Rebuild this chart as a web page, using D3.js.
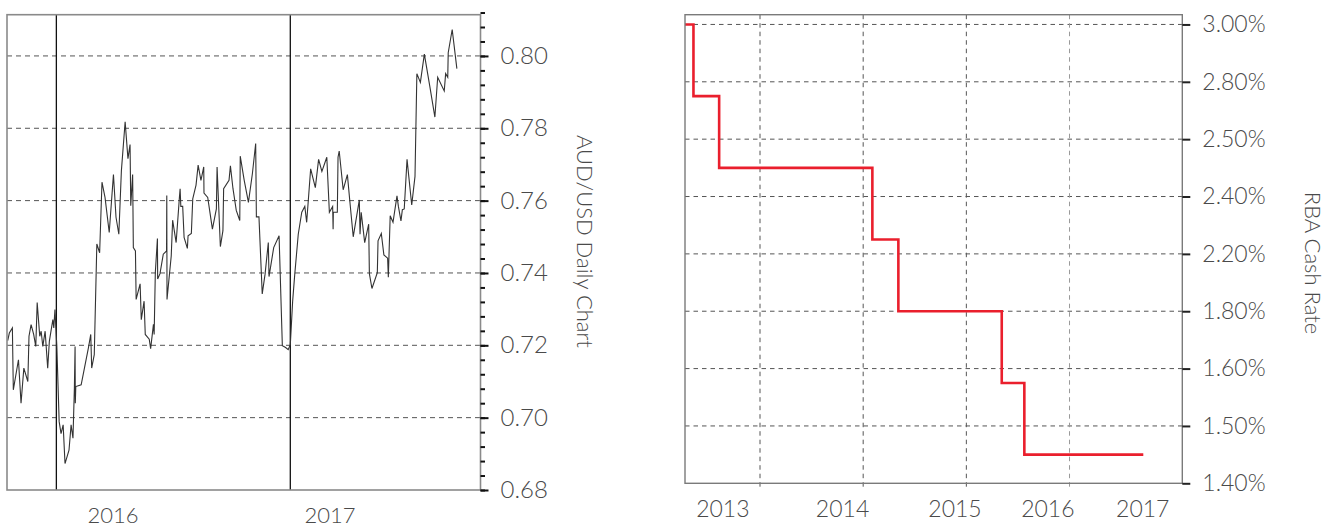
<!DOCTYPE html>
<html>
<head>
<meta charset="utf-8">
<script src="https://cdn.jsdelivr.net/npm/d3@7"></script>
<style>
  body { margin: 0; background: #fff; }
  svg { display: block; }
  text { font-family: Lato, "Open Sans", "DejaVu Sans", sans-serif; font-weight: 300; fill: #4a4a4a; }
</style>
</head>
<body>
<svg id="chart" width="1325" height="526"></svg>
<script>
// ---------- Left panel: AUD/USD daily (time in decimal years) ----------
const audTime = [
  2015.792, 2015.799, 2015.812, 2015.816, 2015.838, 2015.849, 2015.861, 2015.878, 2015.883, 2015.892,
  2015.903, 2015.912, 2015.918, 2015.929, 2015.935, 2015.942, 2015.952, 2015.963, 2015.970, 2015.977,
  2015.985, 2015.989, 2015.994, 2016.002, 2016.012, 2016.020, 2016.029, 2016.037, 2016.054, 2016.063,
  2016.071, 2016.077, 2016.080, 2016.081, 2016.083, 2016.106, 2016.120, 2016.137, 2016.147, 2016.151,
  2016.162, 2016.173, 2016.185, 2016.195, 2016.208, 2016.226, 2016.244, 2016.255, 2016.267, 2016.278,
  2016.294, 2016.306, 2016.315, 2016.318, 2016.326, 2016.327, 2016.329, 2016.338, 2016.341, 2016.358,
  2016.363, 2016.375, 2016.380, 2016.397, 2016.403, 2016.415, 2016.418, 2016.423, 2016.432, 2016.433,
  2016.443, 2016.457, 2016.471, 2016.472, 2016.473, 2016.491, 2016.497, 2016.512, 2016.526, 2016.529,
  2016.532, 2016.540, 2016.546, 2016.560, 2016.563, 2016.577, 2016.583, 2016.597, 2016.606, 2016.618,
  2016.630, 2016.631, 2016.647, 2016.667, 2016.684, 2016.687, 2016.701, 2016.712, 2016.715, 2016.738,
  2016.744, 2016.755, 2016.769, 2016.784, 2016.786, 2016.803, 2016.821, 2016.838, 2016.852, 2016.855,
  2016.866, 2016.880, 2016.892, 2016.906, 2016.909, 2016.929, 2016.952, 2016.966, 2016.980, 2016.991,
  2017.000, 2017.010, 2017.019, 2017.034, 2017.049, 2017.062, 2017.070, 2017.087, 2017.107, 2017.121,
  2017.135, 2017.156, 2017.167, 2017.181, 2017.183, 2017.184, 2017.201, 2017.204, 2017.209, 2017.226,
  2017.244, 2017.255, 2017.269, 2017.295, 2017.298, 2017.303, 2017.318, 2017.335, 2017.338, 2017.349,
  2017.372, 2017.375, 2017.389, 2017.400, 2017.416, 2017.419, 2017.427, 2017.439, 2017.456, 2017.462,
  2017.473, 2017.479, 2017.487, 2017.499, 2017.519, 2017.533, 2017.541, 2017.556, 2017.573, 2017.596,
  2017.618, 2017.630, 2017.658, 2017.664, 2017.673, 2017.675, 2017.692, 2017.712
];
const audValue = [
  0.7213, 0.7234, 0.7248, 0.7077, 0.7160, 0.7040, 0.7137, 0.7100, 0.7225, 0.7257,
  0.7230, 0.7197, 0.7318, 0.7225, 0.7239, 0.7197, 0.7239, 0.7137, 0.7211, 0.7239,
  0.7271, 0.7248, 0.7299, 0.7197, 0.6989, 0.6956, 0.6980, 0.6873, 0.6910, 0.6980,
  0.6943, 0.7081, 0.7197, 0.7040, 0.7086, 0.7091, 0.7137, 0.7193, 0.7230, 0.7137,
  0.7174, 0.7480, 0.7456, 0.7651, 0.7609, 0.7512, 0.7672, 0.7554, 0.7507, 0.7683,
  0.7818, 0.7716, 0.7755, 0.7586, 0.7672, 0.7609, 0.7470, 0.7461, 0.7327, 0.7370,
  0.7271, 0.7322, 0.7230, 0.7217, 0.7191, 0.7258, 0.7230, 0.7401, 0.7495, 0.7383,
  0.7398, 0.7452, 0.7461, 0.7614, 0.7327, 0.7447, 0.7546, 0.7484, 0.7609, 0.7633,
  0.7584, 0.7584, 0.7498, 0.7468, 0.7503, 0.7509, 0.7605, 0.7643, 0.7698, 0.7656,
  0.7693, 0.7621, 0.7609, 0.7521, 0.7577, 0.7693, 0.7473, 0.7517, 0.7633, 0.7656,
  0.7696, 0.7633, 0.7573, 0.7545, 0.7723, 0.7656, 0.7595, 0.7675, 0.7758, 0.7555,
  0.7555, 0.7342, 0.7396, 0.7484, 0.7390, 0.7470, 0.7503, 0.7199, 0.7194, 0.7188,
  0.7202, 0.7322, 0.7396, 0.7507, 0.7568, 0.7584, 0.7540, 0.7688, 0.7636, 0.7714,
  0.7681, 0.7720, 0.7568, 0.7584, 0.7521, 0.7568, 0.7568, 0.7720, 0.7737, 0.7630,
  0.7672, 0.7595, 0.7500, 0.7602, 0.7507, 0.7568, 0.7484, 0.7535, 0.7398, 0.7357,
  0.7401, 0.7489, 0.7509, 0.7450, 0.7441, 0.7388, 0.7558, 0.7540, 0.7613, 0.7584,
  0.7544, 0.7575, 0.7577, 0.7714, 0.7588, 0.7667, 0.7951, 0.7927, 0.8005, 0.7917,
  0.7831, 0.7941, 0.7903, 0.7951, 0.7941, 0.8009, 0.8073, 0.7965
];
const audYearLines = [2016, 2017];
const audYearLabels = ["2016", "2017"];
const audYearLabelAt = [2016.242, 2017.170];
const audTickValues = [0.68, 0.70, 0.72, 0.74, 0.76, 0.78, 0.80];
const audTickLabels = ["0.68", "0.70", "0.72", "0.74", "0.76", "0.78", "0.80"];
const audMinorStep = 0.004;
const audTitle = "AUD/USD Daily Chart";

// ---------- Right panel: RBA cash rate (time in decimal years) ----------
const rbaTime = [2012.273, 2012.355, 2012.604, 2014.089, 2014.341, 2015.343, 2015.562, 2016.715];
const rbaRate = [3.00, 2.75, 2.50, 2.25, 2.00, 1.75, 1.50, 1.50];
const rbaTickValues = [3.0, 2.8, 2.6, 2.4, 2.2, 2.0, 1.8, 1.6, 1.4];
const rbaTickLabels = ["3.00%", "2.80%", "2.50%", "2.40%", "2.20%", "1.80%", "1.60%", "1.50%", "1.40%"];
const rbaYearGrid = [2013, 2014, 2015, 2016];
const rbaYearLabels = ["2013", "2014", "2015", "2016", "2017"];
const rbaYearLabelAt = [2012.64, 2013.80, 2014.89, 2015.79, 2016.71];
const rbaTitle = "RBA Cash Rate";

const svg = d3.select("#chart");

// ================= LEFT PANEL =================
(function () {
  const L = { left: 7, right: 480.5, top: 14.7, bottom: 490 };
  const x = d3.scaleLinear().domain([2015.789, 2017.813]).range([L.left, L.right]);
  const y = d3.scaleLinear().domain([0.68, 0.8114]).range([L.bottom, L.top]);
  const g = svg.append("g");

  g.selectAll("line.hgrid").data(audTickValues.filter(v => v > 0.68)).enter()
    .append("line").attr("class", "hgrid")
    .attr("x1", L.left).attr("x2", L.right)
    .attr("y1", d => y(d)).attr("y2", d => y(d))
    .attr("stroke", "#555").attr("stroke-width", 1).attr("stroke-dasharray", "5,4");

  g.selectAll("line.year").data(audYearLines).enter()
    .append("line").attr("class", "year")
    .attr("x1", d => x(d)).attr("x2", d => x(d))
    .attr("y1", L.top).attr("y2", L.bottom)
    .attr("stroke", "#111").attr("stroke-width", 1.3);

  const pts = audTime.map((t, i) => [t, audValue[i]]);
  g.append("path").datum(pts)
    .attr("fill", "none").attr("stroke", "#333").attr("stroke-width", 1.1)
    .attr("stroke-linejoin", "miter")
    .attr("d", d3.line().x(d => x(d[0])).y(d => y(d[1])));

  g.append("rect").attr("x", L.left).attr("y", L.top)
    .attr("width", L.right - L.left).attr("height", L.bottom - L.top)
    .attr("fill", "none").attr("stroke", "#8a8a8a").attr("stroke-width", 1.6);

  const nMinor = Math.round((y.domain()[1] - 0.68) / audMinorStep);
  const minor = d3.range(0, nMinor + 1).map(i => +(0.68 + i * audMinorStep).toFixed(3));
  const minorAxis = d3.axisRight(y).tickValues(minor).tickSize(4.5).tickFormat("");
  const gm = g.append("g").attr("transform", `translate(${L.right},0)`).call(minorAxis);
  gm.select(".domain").remove();
  gm.selectAll(".tick line").attr("stroke", "#111").attr("stroke-width", 2);

  const majorAxis = d3.axisRight(y).tickValues(audTickValues).tickSize(8).tickPadding(12)
    .tickFormat((d, i) => audTickLabels[i]);
  const ga = g.append("g").attr("transform", `translate(${L.right},0)`).call(majorAxis);
  ga.select(".domain").remove();
  ga.selectAll(".tick line").attr("stroke", "#111").attr("stroke-width", 2);
  ga.selectAll(".tick text").attr("font-size", 24).attr("fill", "#4a4a4a")
    .attr("font-family", null);

  g.selectAll("text.yl").data(audYearLabels).enter()
    .append("text").attr("class", "yl")
    .attr("x", (d, i) => x(audYearLabelAt[i])).attr("y", 514)
    .attr("text-anchor", "middle").attr("dominant-baseline", "central")
    .attr("font-size", 22).text(d => d);

  g.append("text")
    .attr("transform", `translate(585,${(L.top + L.bottom) / 2 - 11}) rotate(90)`)
    .attr("text-anchor", "middle").attr("dominant-baseline", "central")
    .attr("font-size", 22).text(audTitle);
})();

// ================= RIGHT PANEL =================
(function () {
  const R = { left: 685, right: 1182.3, top: 14.7, bottom: 483.3 };
  const x = d3.scaleLinear().domain([2012.273, 2017.093]).range([R.left, R.right]);
  const y = d3.scaleLinear().domain([1.40, 3.034]).range([R.bottom, R.top]);
  const g = svg.append("g");

  g.selectAll("line.hgrid").data(rbaTickValues.filter(v => v > 1.4)).enter()
    .append("line").attr("class", "hgrid")
    .attr("x1", R.left).attr("x2", R.right)
    .attr("y1", d => y(d)).attr("y2", d => y(d))
    .attr("stroke", "#555").attr("stroke-width", 1).attr("stroke-dasharray", "4.5,4");

  g.selectAll("line.vgrid").data(rbaYearGrid).enter()
    .append("line").attr("class", "vgrid")
    .attr("x1", d => x(d)).attr("x2", d => x(d))
    .attr("y1", R.top).attr("y2", R.bottom + 4)
    .attr("stroke", (d, i) => i === rbaYearGrid.length - 1 ? "#999" : "#555")
    .attr("stroke-width", 1).attr("stroke-dasharray", "4.5,4");

  const pts = rbaTime.map((t, i) => [t, rbaRate[i]]);
  g.append("path").datum(pts)
    .attr("fill", "none").attr("stroke", "#ea1f2d").attr("stroke-width", 2.6)
    .attr("d", d3.line().curve(d3.curveStepAfter).x(d => x(d[0])).y(d => y(d[1])));

  g.append("rect").attr("x", R.left).attr("y", R.top)
    .attr("width", R.right - R.left).attr("height", R.bottom - R.top)
    .attr("fill", "none").attr("stroke", "#7a7a7a").attr("stroke-width", 1.4);

  const axis = d3.axisRight(y).tickValues(rbaTickValues).tickSize(8).tickPadding(12)
    .tickFormat((d, i) => rbaTickLabels[i]);
  const ga = g.append("g").attr("transform", `translate(${R.right},0)`).call(axis);
  ga.select(".domain").remove();
  ga.selectAll(".tick line").attr("stroke", "#222").attr("stroke-width", 2);
  ga.selectAll(".tick text").attr("font-size", 23).attr("fill", "#4a4a4a")
    .attr("font-family", null);

  g.selectAll("text.yl").data(rbaYearLabels).enter()
    .append("text").attr("class", "yl")
    .attr("x", (d, i) => x(rbaYearLabelAt[i])).attr("y", 508)
    .attr("text-anchor", "middle").attr("dominant-baseline", "central")
    .attr("font-size", 23).text(d => d);

  g.append("text")
    .attr("transform", `translate(1313,${(R.top + R.bottom) / 2 + 14}) rotate(90)`)
    .attr("text-anchor", "middle").attr("dominant-baseline", "central")
    .attr("font-size", 22).text(rbaTitle);
})();
</script>
</body>
</html>
